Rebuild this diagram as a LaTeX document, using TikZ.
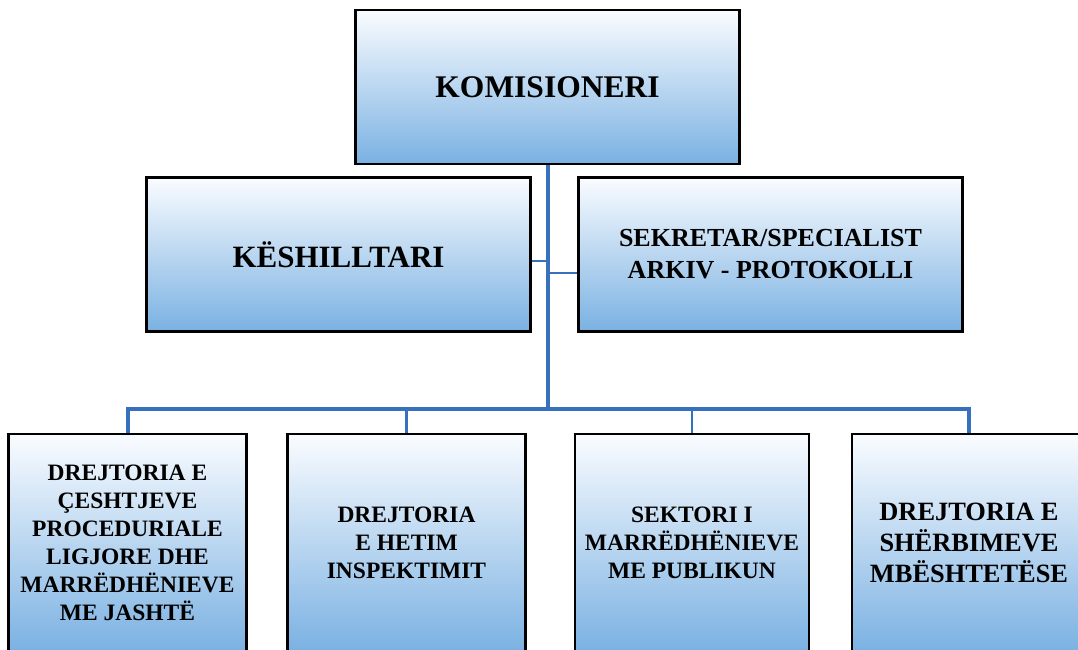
\documentclass[tikz,border=0pt]{standalone}
\usepackage{fontspec}
\setmainfont{Liberation Serif}
\usetikzlibrary{backgrounds}

\definecolor{linkblue}{RGB}{55,113,190}
\definecolor{boxtop}{RGB}{250,252,255}
\definecolor{boxbot}{RGB}{122,177,226}

\tikzset{
	unit/.style		= {draw=black,line width=2.5pt,top color=boxtop,bottom color=boxbot,
					   align=center,inner sep=2pt},
	chief/.style	= {unit,minimum width=384pt,minimum height=154pt,
					   font=\bfseries\fontsize{31.5}{37}\selectfont},
	staff/.style	= {unit,minimum width=384pt,minimum height=154pt},
	dept/.style		= {unit,minimum width=238pt,minimum height=218pt,
					   font=\bfseries\fontsize{23.5}{28}\selectfont},
	trunk/.style	= {draw=linkblue,line width=4pt},
	twig/.style		= {draw=linkblue,line width=2.2pt}
}

\begin{document}
\begin{tikzpicture}[x=1pt,y=-1pt]
		\useasboundingbox (0,0) rectangle (1078,650);

		\node[chief]	(kom)	at (547.5,87)	{KOMISIONERI};
		\node[staff,font=\bfseries\fontsize{31}{37}\selectfont]
						(kesh)	at (338.5,254.5)	{KËSHILLTARI};
		\node[staff,font=\bfseries\fontsize{26}{32}\selectfont]
						(sekr)	at (770.5,254.5)	{SEKRETAR/SPECIALIST\\ARKIV - PROTOKOLLI};

		\node[dept]		(dr1)	at (127.5,543)	{DREJTORIA E\\ÇESHTJEVE\\PROCEDURIALE\\LIGJORE DHE\\MARRËDHËNIEVE\\ME JASHTË};
		\node[dept]		(dr2)	at (406.5,543)	{DREJTORIA\\E HETIM\\INSPEKTIMIT};
		\node[dept,minimum width=234pt]
						(dr3)	at (692,543)	{SEKTORI I\\MARRËDHËNIEVE\\ME PUBLIKUN};
		\node[dept,minimum width=234pt,font=\bfseries\fontsize{26.4}{31}\selectfont]
						(dr4)	at (969,543)	{DREJTORIA E\\SHËRBIMEVE\\MBËSHTETËSE};

		\coordinate		(hub)	at (547.5,409);

		\begin{scope}[on background layer]
			\draw[twig]		([yshift=-6.5pt]kesh.east) -| (hub);
			\draw[twig]		([yshift=-18.5pt]sekr.west) -| (hub);
			\draw[twig]		(hub -| dr2.north) -- (dr2.north);
			\draw[twig]		(hub -| dr3.north) -- (dr3.north);
			\draw[trunk]	(kom.south) -- (hub);
			\draw[trunk]	(dr1.north) |- (hub) -| (dr4.north);
		\end{scope}
	\end{tikzpicture}
\end{document}
